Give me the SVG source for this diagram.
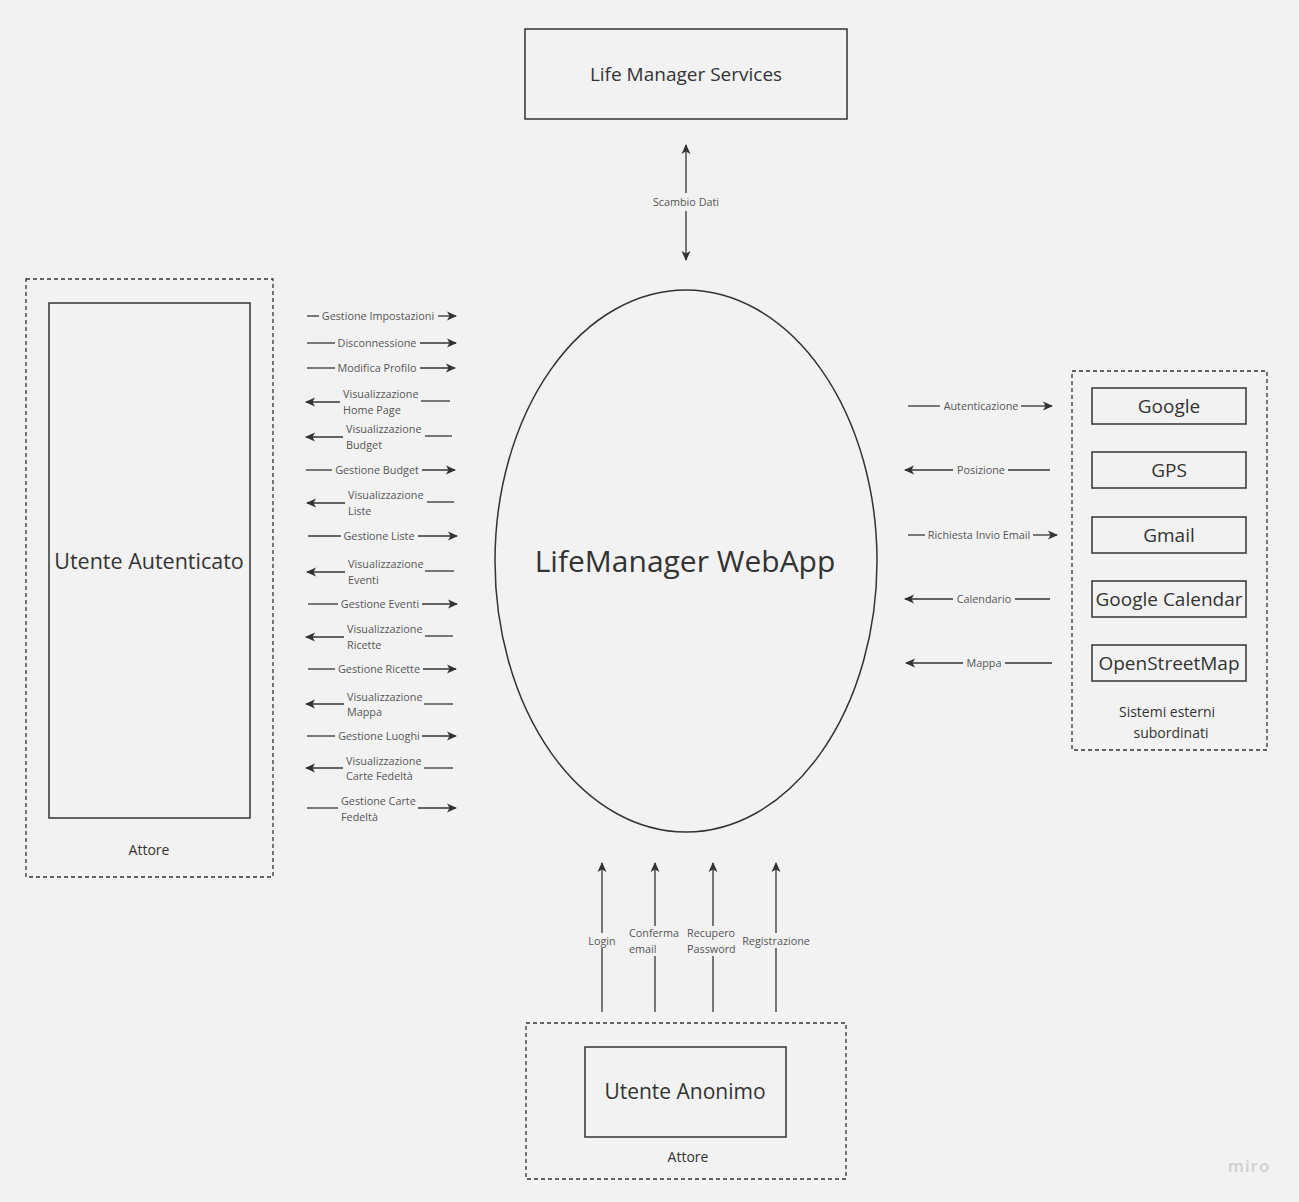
<svg xmlns="http://www.w3.org/2000/svg" width="1299" height="1202" viewBox="0 0 1299 1202">
<style>
text{font-family:"Open Sans","Noto Sans","Liberation Sans",sans-serif;fill:#333}
.box{fill:none;stroke:#333;stroke-width:1.5}
.dash{fill:none;stroke:#333;stroke-width:1.3;stroke-dasharray:4 3}
.ln{stroke:#333;stroke-width:1.3;fill:none}
.lb{font-size:10.8px;fill:#555}
.t19{font-size:19px}
.t14{font-size:14px}
</style>
<defs>
<marker id="ah" viewBox="0 0 10 10" refX="9" refY="5" markerWidth="10" markerHeight="10" markerUnits="userSpaceOnUse" orient="auto-start-reverse">
<path d="M0,0.5 L10,5 L0,9.5 L2.5,5 z" fill="#333"/>
</marker>
</defs>
<rect width="1299" height="1202" fill="#f2f2f2"/>

<g id="life-manager-services">
<rect class="box" x="525" y="29" width="322" height="90"/>
<text class="t19" x="686" y="81" text-anchor="middle">Life Manager Services</text>
</g>

<g id="webapp">
<ellipse class="box" cx="686" cy="561" rx="191" ry="271"/>
<text x="685" y="572" font-size="30" text-anchor="middle">LifeManager WebApp</text>
</g>

<g id="utente-autenticato">
<rect class="dash" x="26" y="279" width="247" height="598"/>
<rect class="box" x="49" y="303" width="201" height="515"/>
<text x="149" y="569" font-size="21.5" text-anchor="middle">Utente Autenticato</text>
<text class="t14" x="149" y="855" text-anchor="middle">Attore</text>
</g>

<g id="sistemi-esterni">
<rect class="dash" x="1072" y="371" width="195" height="379"/>
<rect class="box" x="1092" y="388" width="154" height="36"/>
<text class="t19" x="1169" y="413" text-anchor="middle">Google</text>
<rect class="box" x="1092" y="452" width="154" height="36"/>
<text class="t19" x="1169" y="477" text-anchor="middle">GPS</text>
<rect class="box" x="1092" y="517" width="154" height="36"/>
<text class="t19" x="1169" y="542" text-anchor="middle">Gmail</text>
<rect class="box" x="1092" y="581" width="154" height="36"/>
<text class="t19" x="1169" y="606" text-anchor="middle">Google Calendar</text>
<rect class="box" x="1092" y="645" width="154" height="36"/>
<text class="t19" x="1169" y="670" text-anchor="middle">OpenStreetMap</text>
<text class="t14" x="1167" y="717" text-anchor="middle">Sistemi esterni</text>
<text class="t14" x="1171" y="738" text-anchor="middle">subordinati</text>
</g>

<g id="utente-anonimo">
<rect class="dash" x="526" y="1023" width="320" height="156"/>
<rect class="box" x="585" y="1047" width="201" height="90"/>
<text x="685" y="1099" font-size="21" text-anchor="middle">Utente Anonimo</text>
<text class="t14" x="688" y="1162" text-anchor="middle">Attore</text>
</g>

<g id="connectors">
<!-- Scambio Dati -->
<line class="ln" x1="686" y1="193" x2="686" y2="145" marker-end="url(#ah)"/>
<line class="ln" x1="686" y1="211" x2="686" y2="260" marker-end="url(#ah)"/>
<text class="lb" x="686" y="206" text-anchor="middle">Scambio Dati</text>

<!-- Left side -->
<line class="ln" x1="307" y1="316" x2="319" y2="316"/>
<text class="lb" x="378" y="320" text-anchor="middle">Gestione Impostazioni</text>
<line class="ln" x1="438" y1="316" x2="456" y2="316" marker-end="url(#ah)"/>

<line class="ln" x1="307" y1="343" x2="335" y2="343"/>
<text class="lb" x="377" y="347" text-anchor="middle">Disconnessione</text>
<line class="ln" x1="420" y1="343" x2="456" y2="343" marker-end="url(#ah)"/>

<line class="ln" x1="307" y1="368" x2="335" y2="368"/>
<text class="lb" x="377" y="372" text-anchor="middle">Modifica Profilo</text>
<line class="ln" x1="420" y1="368" x2="455" y2="368" marker-end="url(#ah)"/>

<line class="ln" x1="340" y1="402" x2="306" y2="402" marker-end="url(#ah)"/>
<text class="lb" x="343" y="398">Visualizzazione</text>
<text class="lb" x="343" y="414">Home Page</text>
<line class="ln" x1="421" y1="401" x2="450" y2="401"/>

<line class="ln" x1="343" y1="437" x2="306" y2="437" marker-end="url(#ah)"/>
<text class="lb" x="346" y="433">Visualizzazione</text>
<text class="lb" x="346" y="449">Budget</text>
<line class="ln" x1="425" y1="436" x2="452" y2="436"/>

<line class="ln" x1="306" y1="470" x2="332" y2="470"/>
<text class="lb" x="377" y="474" text-anchor="middle">Gestione Budget</text>
<line class="ln" x1="422" y1="470" x2="455" y2="470" marker-end="url(#ah)"/>

<line class="ln" x1="345" y1="503" x2="307" y2="503" marker-end="url(#ah)"/>
<text class="lb" x="348" y="499">Visualizzazione</text>
<text class="lb" x="348" y="515">Liste</text>
<line class="ln" x1="427" y1="502" x2="454" y2="502"/>

<line class="ln" x1="308" y1="536" x2="341" y2="536"/>
<text class="lb" x="379" y="540" text-anchor="middle">Gestione Liste</text>
<line class="ln" x1="418" y1="536" x2="457" y2="536" marker-end="url(#ah)"/>

<line class="ln" x1="345" y1="572" x2="307" y2="572" marker-end="url(#ah)"/>
<text class="lb" x="348" y="568">Visualizzazione</text>
<text class="lb" x="348" y="584">Eventi</text>
<line class="ln" x1="425" y1="571" x2="454" y2="571"/>

<line class="ln" x1="308" y1="604" x2="338" y2="604"/>
<text class="lb" x="380" y="608" text-anchor="middle">Gestione Eventi</text>
<line class="ln" x1="422" y1="604" x2="457" y2="604" marker-end="url(#ah)"/>

<line class="ln" x1="344" y1="637" x2="306" y2="637" marker-end="url(#ah)"/>
<text class="lb" x="347" y="633">Visualizzazione</text>
<text class="lb" x="347" y="649">Ricette</text>
<line class="ln" x1="425" y1="636" x2="453" y2="636"/>

<line class="ln" x1="308" y1="669" x2="335" y2="669"/>
<text class="lb" x="379" y="673" text-anchor="middle">Gestione Ricette</text>
<line class="ln" x1="423" y1="669" x2="456" y2="669" marker-end="url(#ah)"/>

<line class="ln" x1="344" y1="704" x2="306" y2="704" marker-end="url(#ah)"/>
<text class="lb" x="347" y="701">Visualizzazione</text>
<text class="lb" x="347" y="716">Mappa</text>
<line class="ln" x1="424" y1="704" x2="453" y2="704"/>

<line class="ln" x1="307" y1="736" x2="335" y2="736"/>
<text class="lb" x="379" y="740" text-anchor="middle">Gestione Luoghi</text>
<line class="ln" x1="422" y1="736" x2="456" y2="736" marker-end="url(#ah)"/>

<line class="ln" x1="343" y1="768" x2="306" y2="768" marker-end="url(#ah)"/>
<text class="lb" x="346" y="765">Visualizzazione</text>
<text class="lb" x="346" y="780">Carte Fedeltà</text>
<line class="ln" x1="424" y1="768" x2="453" y2="768"/>

<line class="ln" x1="307" y1="808" x2="338" y2="808"/>
<text class="lb" x="341" y="805">Gestione Carte</text>
<text class="lb" x="341" y="821">Fedeltà</text>
<line class="ln" x1="418" y1="808" x2="456" y2="808" marker-end="url(#ah)"/>

<!-- Right side -->
<line class="ln" x1="908" y1="406" x2="940" y2="406"/>
<text class="lb" x="981" y="410" text-anchor="middle">Autenticazione</text>
<line class="ln" x1="1021" y1="406" x2="1052" y2="406" marker-end="url(#ah)"/>

<line class="ln" x1="953" y1="470" x2="905" y2="470" marker-end="url(#ah)"/>
<text class="lb" x="981" y="474" text-anchor="middle">Posizione</text>
<line class="ln" x1="1008" y1="470" x2="1050" y2="470"/>

<line class="ln" x1="908" y1="535" x2="925" y2="535"/>
<text class="lb" x="979" y="539" text-anchor="middle">Richiesta Invio Email</text>
<line class="ln" x1="1033" y1="535" x2="1057" y2="535" marker-end="url(#ah)"/>

<line class="ln" x1="953" y1="599" x2="905" y2="599" marker-end="url(#ah)"/>
<text class="lb" x="984" y="603" text-anchor="middle">Calendario</text>
<line class="ln" x1="1015" y1="599" x2="1050" y2="599"/>

<line class="ln" x1="963" y1="663" x2="906" y2="663" marker-end="url(#ah)"/>
<text class="lb" x="984" y="667" text-anchor="middle">Mappa</text>
<line class="ln" x1="1005" y1="663" x2="1052" y2="663"/>

<!-- Bottom -->
<line class="ln" x1="602" y1="933" x2="602" y2="863" marker-end="url(#ah)"/>
<line class="ln" x1="602" y1="948" x2="602" y2="1012"/>
<text class="lb" x="602" y="945" text-anchor="middle">Login</text>

<line class="ln" x1="655" y1="926" x2="655" y2="863" marker-end="url(#ah)"/>
<line class="ln" x1="655" y1="956" x2="655" y2="1012"/>
<text class="lb" x="629" y="937">Conferma</text>
<text class="lb" x="629" y="953">email</text>

<line class="ln" x1="713" y1="926" x2="713" y2="863" marker-end="url(#ah)"/>
<line class="ln" x1="713" y1="956" x2="713" y2="1012"/>
<text class="lb" x="687" y="937">Recupero</text>
<text class="lb" x="687" y="953">Password</text>

<line class="ln" x1="776" y1="933" x2="776" y2="863" marker-end="url(#ah)"/>
<line class="ln" x1="776" y1="948" x2="776" y2="1012"/>
<text class="lb" x="776" y="945" text-anchor="middle">Registrazione</text>
</g>

<text x="1249" y="1172" font-size="17" text-anchor="middle" style="fill:#cfcfd3;font-weight:600;letter-spacing:1px">miro</text>
</svg>
